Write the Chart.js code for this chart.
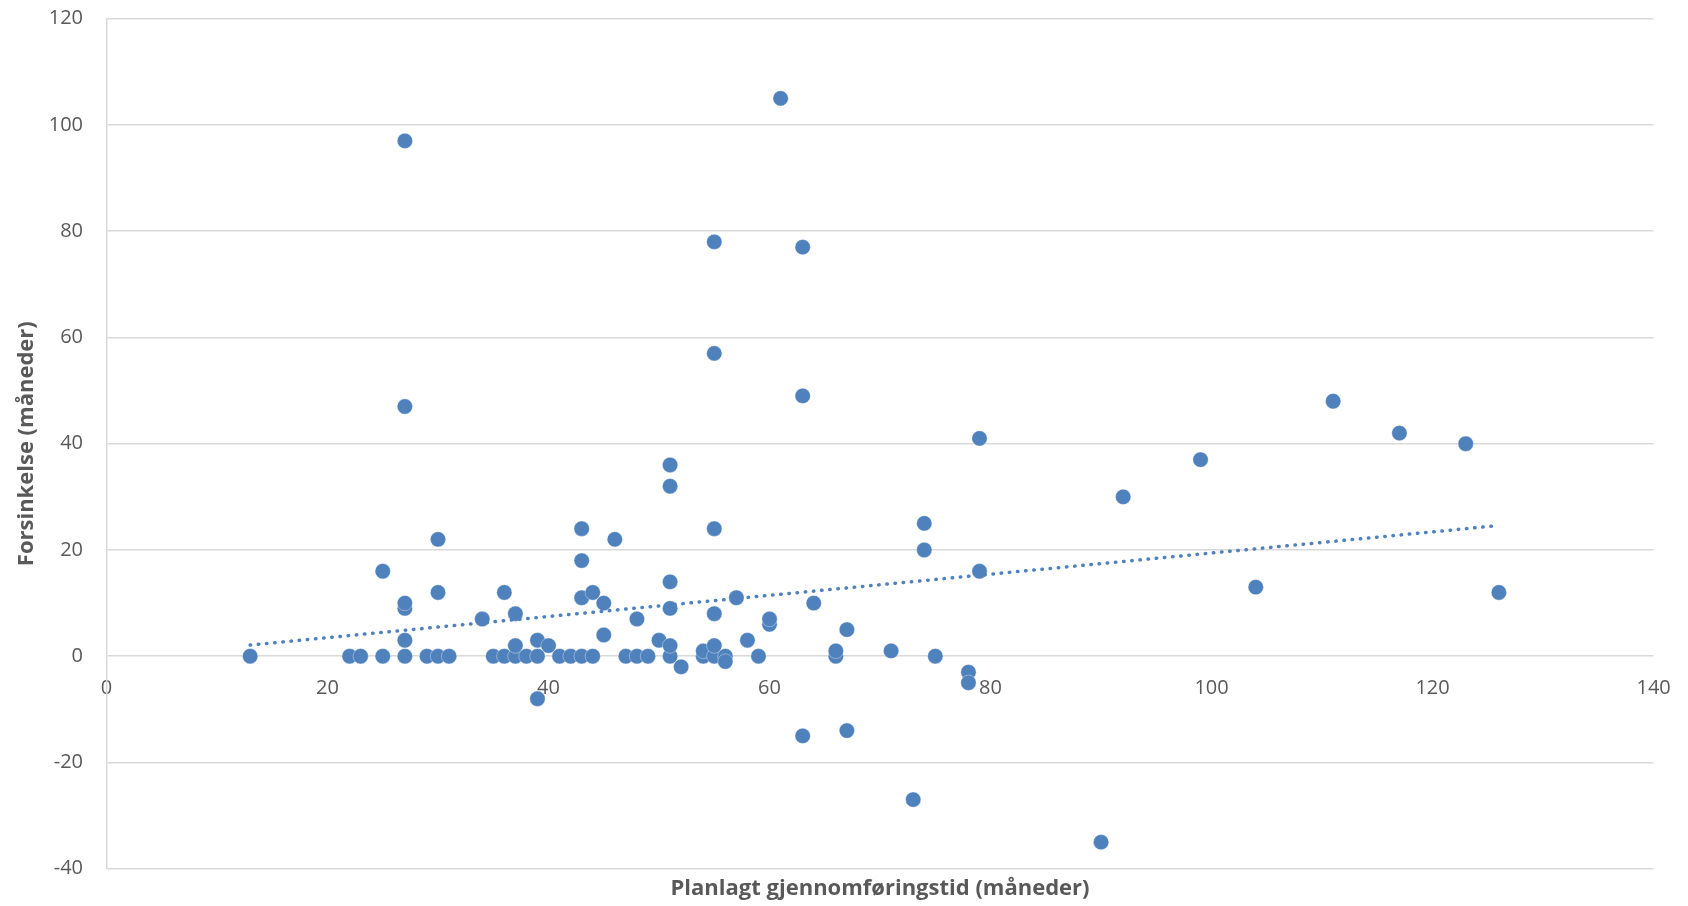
<!DOCTYPE html>
<html lang="no">
<head>
<meta charset="utf-8">
<title>Forsinkelse mot planlagt gjennomføringstid</title>
<script src="https://cdn.jsdelivr.net/npm/chart.js@4/dist/chart.umd.min.js"></script>
<style>
  html, body { margin: 0; padding: 0; background: #ffffff; }
  #wrap { width: 1688px; height: 906px; position: relative; }
</style>
</head>
<body>
<div id="wrap"><canvas id="c"></canvas></div>
<script>
// Planned duration (months) and delay (months) for each project, paired by index
const planlagt = [13,22,23,25,25,27,27,27,27,27,27,29,30,30,30,31,34,35,36,36,37,37,37,38,39,39,39,40,41,42,43,43,43,43,44,44,45,45,46,47,48,48,49,50,51,51,51,51,51,51,52,54,54,55,55,55,55,55,55,56,56,57,58,59,60,60,61,63,63,63,64,66,66,67,67,71,73,74,74,75,78,78,79,79,90,92,99,104,111,117,123,126];
const forsinkelse = [0,0,0,0,16,0,3,9,10,47,97,0,0,12,22,0,7,0,0,12,0,2,8,0,0,3,-8,2,0,0,0,11,18,24,0,12,4,10,22,0,0,7,0,3,0,2,9,14,32,36,-2,0,1,0,2,8,24,57,78,0,-1,11,3,0,6,7,105,-15,49,77,10,0,1,5,-14,1,-27,20,25,0,-3,-5,16,41,-35,30,37,13,48,42,40,12];

// Linear trend line end points
const trendX = [13, 126];
const trendY = [2.1, 24.6];

// Axis tick values
const xTicks = [0, 20, 40, 60, 80, 100, 120, 140];
const yTicks = [-40, -20, 0, 20, 40, 60, 80, 100, 120];

const blue = '#4f81bd';
const gridGrey = '#d9d9d9';
const textGrey = '#595959';
const family = "'Open Sans', 'Noto Sans', sans-serif";

const points = planlagt.map((x, i) => ({ x: x, y: forsinkelse[i] }));
const trend = trendX.map((x, i) => ({ x: x, y: trendY[i] }));

// Keep tick labels from widening the plot margins; the layout padding sets them
function noEdgePadding(s) {
  s.paddingTop = 0;
  s.paddingBottom = 0;
  s.paddingLeft = 0;
  s.paddingRight = 0;
}

new Chart(document.getElementById('c'), {
  type: 'scatter',
  data: {
    datasets: [
      {
        label: 'Lineær trend',
        data: trend,
        showLine: true,
        borderColor: blue,
        borderWidth: 3.5,
        borderDash: [0.5, 7.7],
        borderCapStyle: 'round',
        pointRadius: 0,
        fill: false,
        order: 0
      },
      {
        label: 'Prosjekter',
        data: points,
        pointBackgroundColor: blue,
        pointBorderColor: 'rgba(255,255,255,0.45)',
        pointBorderWidth: 0.8,
        pointRadius: 7.7,
        order: 1
      }
    ]
  },
  options: {
    responsive: true,
    maintainAspectRatio: false,
    animation: false,
    layout: { padding: { left: 0, right: 34.4, top: 18.7, bottom: 0 } },
    plugins: {
      legend: { display: false },
      tooltip: { enabled: false }
    },
    scales: {
      x: {
        type: 'linear',
        position: { y: 0 },
        min: 0,
        max: 140,
        afterBuildTicks: s => { s.ticks = xTicks.map(v => ({ value: v })); },
        grid: { display: false, drawTicks: false },
        border: { display: false },
        ticks: { font: { family: family, size: 20 }, color: textGrey, padding: 20, maxRotation: 0 },
        afterFit: s => { s.height = 0; noEdgePadding(s); }
      },
      xTitle: {
        type: 'linear',
        axis: 'x',
        position: 'bottom',
        min: 0,
        max: 140,
        grid: { display: false, drawTicks: false },
        border: { display: false },
        ticks: { display: false },
        title: {
          display: true,
          text: 'Planlagt gjennomføringstid (måneder)',
          font: { family: family, size: 22, weight: 'bold' },
          color: textGrey,
          padding: { top: 0, bottom: 3.8 }
        },
        afterFit: s => { s.height = 37.3; noEdgePadding(s); }
      },
      y: {
        type: 'linear',
        position: 'left',
        min: -40,
        max: 120,
        afterBuildTicks: s => { s.ticks = yTicks.map(v => ({ value: v })); },
        grid: { color: gridGrey, lineWidth: 1.5, drawTicks: false },
        border: { display: true, color: gridGrey, width: 1.5 },
        ticks: { font: { family: family, size: 20 }, color: textGrey, padding: 23.5 },
        title: {
          display: true,
          text: 'Forsinkelse (måneder)',
          font: { family: family, size: 22, weight: 'bold' },
          color: textGrey,
          padding: { top: 13.8, bottom: 0 }
        },
        afterFit: s => { s.width = 106.5; noEdgePadding(s); }
      }
    }
  }
});
</script>
</body>
</html>
